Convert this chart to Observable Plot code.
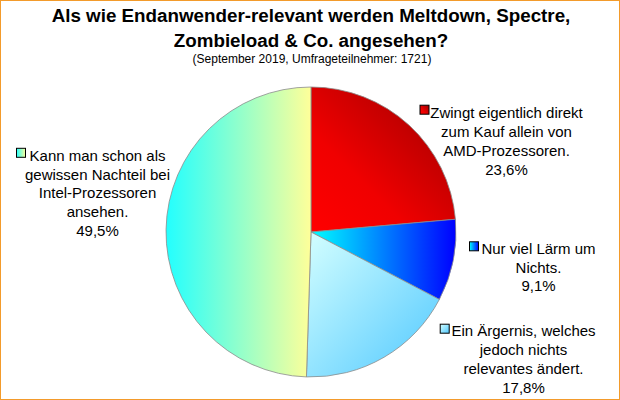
<!DOCTYPE html>
<html>
<head>
<meta charset="utf-8">
<script src="https://cdn.jsdelivr.net/npm/d3@7"></script>
<script src="https://cdn.jsdelivr.net/npm/@observablehq/plot@0.6"></script>
<style>
  html, body { margin: 0; padding: 0; background: #fff; }
  #chart { position: relative; width: 620px; height: 400px; overflow: hidden; background: #fff;
           font-family: "Liberation Sans", Arial, sans-serif; color: #000; }
  #chart svg { position: absolute; left: 0; top: 0; }
  .title { position: absolute; left: 0; width: 622px; text-align: center; font-weight: bold;
           font-size: 18.8px; line-height: 25px; top: 3px; }
  .subtitle { position: absolute; left: 0; width: 624px; text-align: center;
              font-size: 12px; line-height: 12px; top: 53px; }
  .frame { position: absolute; left: 0; top: 0; width: 620px; height: 400px; box-sizing: border-box;
           border: 1px solid #f39b2b; pointer-events: none; }
</style>
</head>
<body>
<div id="chart">
  <div class="title">Als wie Endanwender-relevant werden Meltdown, Spectre,<br>Zombieload &amp; Co. angesehen?</div>
  <div class="subtitle">(September 2019, Umfrageteilnehmer: 1721)</div>
  <div class="frame"></div>
</div>
<script>
// ---- data ----
const categories = [
  "Zwingt eigentlich direkt\nzum Kauf allein von\nAMD-Prozessoren.",
  "Nur viel Lärm um\nNichts.",
  "Ein Ärgernis, welches\njedoch nichts\nrelevantes ändert.",
  "Kann man schon als\ngewissen Nachteil bei\nIntel-Prozessoren\nansehen."
];
const shares = [23.6, 9.1, 17.8, 49.5];
const shareLabels = shares.map(v => v.toFixed(1).replace(".", ",") + "%");

// ---- styles / layout (pixel units of the 620x400 canvas) ----
const gradients = [
  {x1: 0, y1: 1, x2: 1, y2: 0, stops: [[0, "#ff0000"], [0.35, "#f00000"], [1, "#9a0000"]]},
  {x1: 0, y1: 0, x2: 1, y2: 0, stops: [[0, "#00ffff"], [1, "#0000ff"]]},
  {x1: 0, y1: 0, x2: 1, y2: 1, stops: [[0, "#d4ffff"], [1, "#50c8ff"]]},
  {x1: 0, y1: 0, x2: 1, y2: 0, stops: [[0, "#22ffff"], [1, "#ffff99"]]}
];
const pieLayout = {cx: 311, cy: 232, r: 145};
const labelLayout = [
  {x: 506, y: 104.5, mx: 424.5, my: 109.7},
  {x: 538, y: 240,   mx: 474,   my: 246.3},
  {x: 523, y: 322.5, mx: 444.7, my: 328.7},
  {x: 97,  y: 147,   mx: 21,    my: 152.8}
];

const labelData = categories.map((c, i) => ({
  text: c + "\n" + shareLabels[i],
  x: labelLayout[i].x,
  y: labelLayout[i].y
}));

function pieMark(index, scales) {
  const g = d3.create("svg:g");
  const defs = g.append("defs");
  gradients.forEach((gr, i) => {
    const lg = defs.append("linearGradient").attr("id", "grad" + i)
      .attr("x1", gr.x1).attr("y1", gr.y1).attr("x2", gr.x2).attr("y2", gr.y2);
    gr.stops.forEach(([o, c]) => lg.append("stop").attr("offset", o).attr("stop-color", c));
  });
  const cx = scales.x(pieLayout.cx), cy = scales.y(pieLayout.cy);
  const r = scales.x(pieLayout.cx + pieLayout.r) - cx;
  const arcs = d3.pie().sort(null).value(d => d)(shares);
  const arc = d3.arc().innerRadius(0).outerRadius(r);
  g.append("g").attr("transform", `translate(${cx},${cy})`)
    .selectAll("path").data(arcs).join("path")
    .attr("d", arc)
    .attr("fill", (d, i) => `url(#grad${i})`)
    .attr("stroke", "#8c8c8c").attr("stroke-width", 0.8).attr("stroke-linejoin", "round");
  // legend keys
  const s = 9;
  g.append("g").selectAll("rect").data(labelLayout).join("rect")
    .attr("x", d => scales.x(d.mx) - s / 2).attr("y", d => scales.y(d.my) - s / 2)
    .attr("width", s).attr("height", s)
    .attr("fill", (d, i) => `url(#grad${i})`)
    .attr("stroke", "#000").attr("stroke-width", 1);
  return g.node();
}

const chart = Plot.plot({
  width: 620,
  height: 400,
  margin: 0,
  x: {type: "linear", domain: [0, 620], range: [0, 620], axis: null},
  y: {type: "linear", domain: [0, 400], range: [0, 400], axis: null},
  style: {fontFamily: "'Liberation Sans', Arial, sans-serif", background: "transparent", color: "#000"},
  marks: [
    pieMark,
    Plot.text(labelData, {
      x: "x", y: "y", text: "text",
      fontSize: 15, lineHeight: 1.25, lineAnchor: "top", textAnchor: "middle", fill: "#000"
    })
  ]
});
document.getElementById("chart").insertBefore(chart, document.querySelector(".frame"));
</script>
</body>
</html>
